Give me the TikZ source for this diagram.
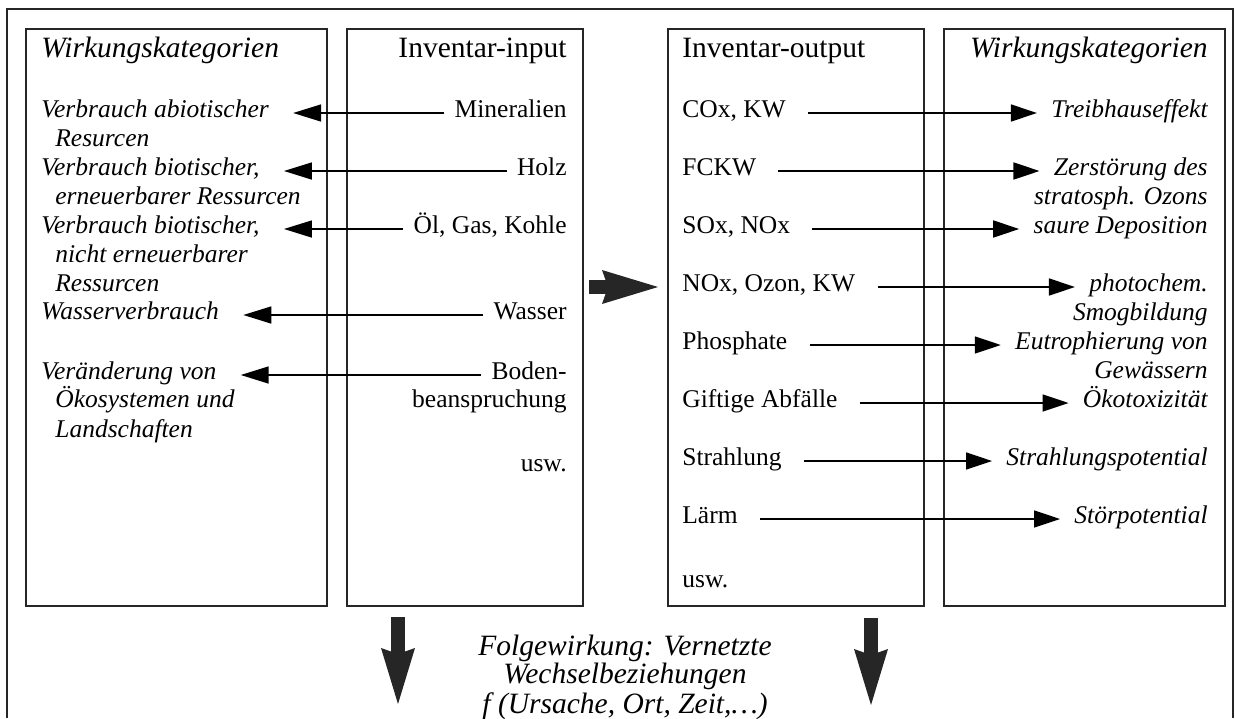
\documentclass[tikz,border=0pt]{standalone}
\usepackage{fontspec}
\setmainfont{Liberation Serif}
\usepackage{tikz}
\usetikzlibrary{arrows.meta, positioning}

\newcommand\bodysize{\fontsize{12.75pt}{14.5pt}\selectfont}
\newcommand\headsize{\fontsize{14.75pt}{13pt}\selectfont}

\begin{document}
\begin{tikzpicture}[
        x=0.5pt, y=-0.5pt,
        frame/.style={draw=black!85, line width=1pt},
        colbox/.style={frame, anchor=north west, inner sep=0pt, minimum height=288.5pt},
        txt/.style={inner sep=0pt, font=\bodysize},
        cat/.style={inner sep=0pt, font=\bodysize\itshape},
        head/.style={inner sep=0pt, font=\headsize},
        headcat/.style={inner sep=0pt, font=\headsize\itshape},
        inarrow/.style={-{Triangle[length=14pt, width=8.5pt]}, line width=0.8pt, shorten <=5pt, shorten >=12pt},
        outarrow/.style={-{Triangle[length=13pt, width=8.5pt]}, line width=0.8pt, shorten <=11pt, shorten >=7pt},
        bigarrow/.style={-{Stealth[length=28pt, width=17pt, inset=3pt, line width=0pt]}, line width=7pt, draw=black!85}
    ]
    \useasboundingbox (0,0) rectangle (1235,718);
    \draw[frame] (7,718) -- (7,9) -- (1233,9) -- (1233,718);

    % the four columns
    \node[colbox, minimum width=150.5pt] (catL) at (25,28) {};
    \node[colbox, minimum width=118pt] (inbox) at (346,28) {};
    \node[colbox, minimum width=128pt] (outbox) at (667,28) {};
    \node[colbox, minimum width=140.5pt] (catR) at (943,28) {};

    \node[headcat, anchor=mid west] (hcatL) at (41,53) {Wirkungskategorien};
    \node[head, anchor=mid east] (hin) at (567,53) {Inventar-input};
    \node[head, anchor=mid west] (hout) at (682,53) {Inventar-output};
    \node[headcat, anchor=mid east] (hcatR) at (1208,53) {Wirkungskategorien};

    % input side
    \node[cat, anchor=mid west] (c1) at (41,113) {Verbrauch abiotischer};
    \node[cat, anchor=mid west] (c1b) at (55,142) {Resurcen};
    \node[cat, anchor=mid west] (c2) at (41,171) {Verbrauch biotischer,};
    \node[cat, anchor=mid west] (c2b) at (55,200) {erneuerbarer Ressurcen};
    \node[cat, anchor=mid west] (c3) at (41,229) {Verbrauch biotischer,};
    \node[cat, anchor=mid west] (c3b) at (55,258) {nicht erneuerbarer};
    \node[cat, anchor=mid west] (c3c) at (55,287) {Ressurcen};
    \node[cat, anchor=mid west] (c4) at (41,315) {Wasserverbrauch};
    \node[cat, anchor=mid west] (c5) at (41,375) {Veränderung von};
    \node[cat, anchor=mid west] (c5b) at (55,403) {Ökosystemen und};
    \node[cat, anchor=mid west] (c5c) at (55,433) {Landschaften};

    \node[txt, anchor=mid east] (i1) at (567,113) {Mineralien};
    \node[txt, anchor=mid east] (i2) at (567,171) {Holz};
    \node[txt, anchor=mid east] (i3) at (567,229) {Öl, Gas, Kohle};
    \node[txt, anchor=mid east] (i4) at (567,315) {Wasser};
    \node[txt, anchor=mid east] (i5) at (567,375) {Boden-};
    \node[txt, anchor=mid east] (i5b) at (567,403) {beanspruchung};
    \node[txt, anchor=mid east] (iusw) at (567,467) {usw.};

    \draw[inarrow] (i1.mid west) -- (c1.mid east);
    \draw[inarrow] (i2.mid west) -- (c2.mid east);
    \draw[inarrow] (i3.mid west) -- (c3.mid east);
    \draw[inarrow] (i4.mid west) -- (c4.mid east);
    \draw[inarrow] (i5.mid west) -- (c5.mid east);

    % output side
    \node[txt, anchor=mid west] (o1) at (682,113) {COx, KW};
    \node[txt, anchor=mid west] (o2) at (682,171) {FCKW};
    \node[txt, anchor=mid west] (o3) at (682,229) {SOx, NOx};
    \node[txt, anchor=mid west] (o4) at (682,287) {NOx, Ozon, KW};
    \node[txt, anchor=mid west] (o5) at (682,345) {Phosphate};
    \node[txt, anchor=mid west] (o6) at (682,403) {Giftige Abfälle};
    \node[txt, anchor=mid west] (o7) at (682,461) {Strahlung};
    \node[txt, anchor=mid west] (o8) at (682,519) {Lärm};
    \node[txt, anchor=mid west] (ousw) at (682,583) {usw.};

    \node[cat, anchor=mid east] (r1) at (1208,113) {Treibhauseffekt};
    \node[cat, anchor=mid east] (r2) at (1208,171) {Zerstörung des};
    \node[cat, anchor=mid east] (r2b) at (1208,200) {stratosph. Ozons};
    \node[cat, anchor=mid east] (r3) at (1208,229) {saure Deposition};
    \node[cat, anchor=mid east] (r4) at (1208,287) {photochem.};
    \node[cat, anchor=mid east] (r4b) at (1208,316) {Smogbildung};
    \node[cat, anchor=mid east] (r5) at (1208,345) {Eutrophierung von};
    \node[cat, anchor=mid east] (r5b) at (1208,374) {Gewässern};
    \node[cat, anchor=mid east] (r6) at (1208,403) {Ökotoxizität};
    \node[cat, anchor=mid east] (r7) at (1208,461) {Strahlungspotential};
    \node[cat, anchor=mid east] (r8) at (1208,519) {Störpotential};

    \draw[outarrow] (o1.mid east) -- (r1.mid west);
    \draw[outarrow] (o2.mid east) -- (r2.mid west);
    \draw[outarrow] (o3.mid east) -- (r3.mid west);
    \draw[outarrow] (o4.mid east) -- (r4.mid west);
    \draw[outarrow] (o5.mid east) -- (r5.mid west);
    \draw[outarrow] (o6.mid east) -- (r6.mid west);
    \draw[outarrow] (o7.mid east) -- (r7.mid west);
    \draw[outarrow] (o8.mid east) -- (r8.mid west);

    % block arrows and follow-up effects
    \draw[bigarrow, shorten <=2.5pt, shorten >=4.5pt] (inbox.east |- o4.mid) -- (outbox.west |- o4.mid);
    \coordinate (d1) at (398,704);
    \coordinate (d2) at (871,705);
    \draw[bigarrow, shorten <=5pt] (inbox.south -| d1) -- (d1);
    \draw[bigarrow, shorten <=5.5pt] (outbox.south -| d2) -- (d2);

    \node[headcat, align=center] (effect) at (625,677) {Folgewirkung: Vernetzte\\Wechselbeziehungen\\f (Ursache, Ort, Zeit,…)};
\end{tikzpicture}
\end{document}
